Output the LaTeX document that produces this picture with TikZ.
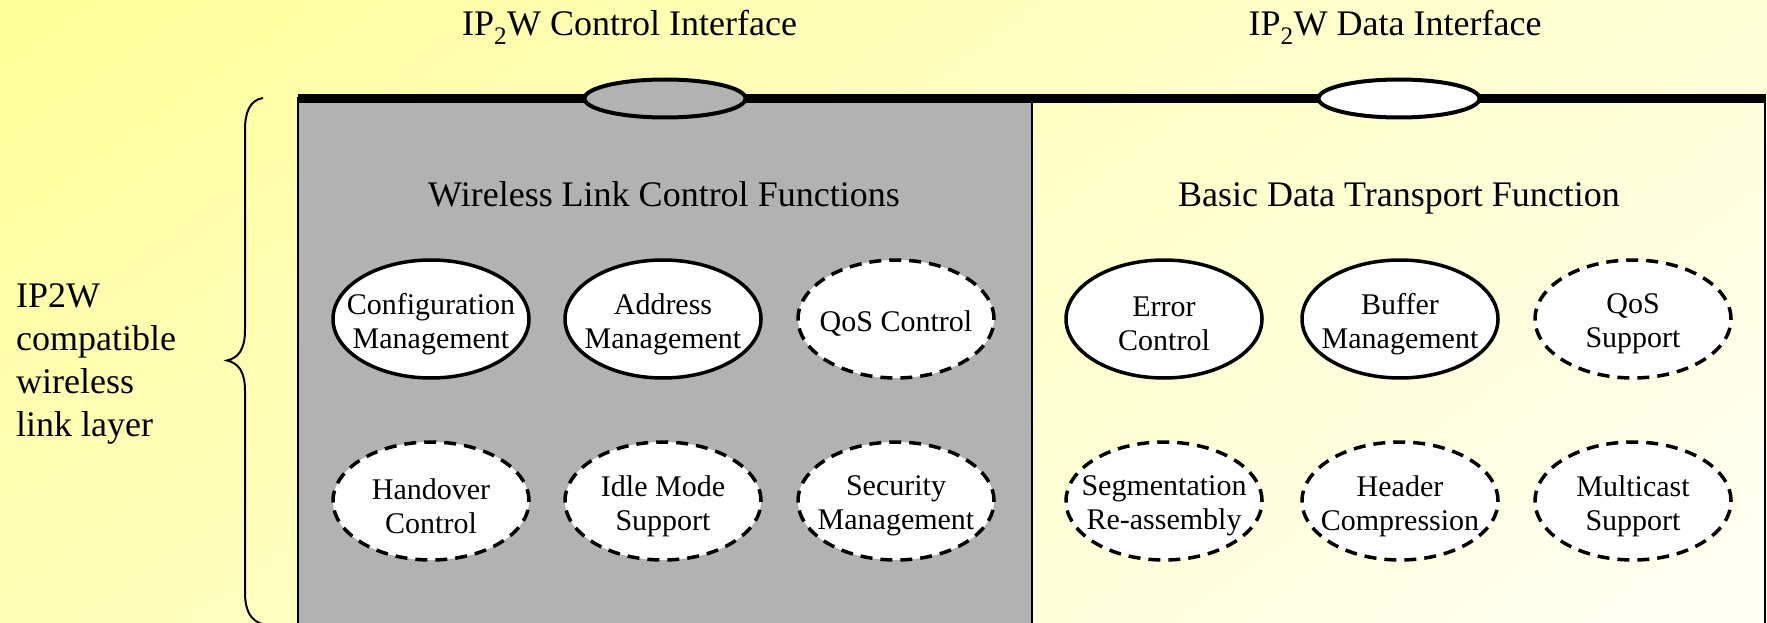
\documentclass[tikz,border=0pt]{standalone}
\usepackage{fontspec}
\setmainfont{Liberation Serif}
\usetikzlibrary{shapes.geometric,shadings}

\definecolor{bgUL}{HTML}{FFFF99}
\definecolor{bgUR}{HTML}{FFFFD8}
\definecolor{bgLL}{HTML}{FFFFB8}
\definecolor{bgLR}{HTML}{FFFFF5}
\definecolor{panelgray}{HTML}{B2B2B2}

\tikzset{
  bigtext/.style={font=\fontsize{36}{43}\selectfont, inner sep=0pt},
  % function ellipse; its text sits slightly below the centre
  ftext/.style={align=center, inner sep=0pt, yshift=-5pt,
    font=\fontsize{30}{34}\selectfont},
  func/.style={ellipse, draw=black, fill=white, line width=3.5pt,
    minimum width=196pt, minimum height=118pt, inner sep=0pt,
    label={[ftext]center:{#1}}},
  optfunc/.style={func={#1}, dash pattern=on 12pt off 8pt},
  iface/.style={ellipse, draw=black, line width=4pt,
    minimum width=161pt, minimum height=38pt, inner sep=0pt},
  panelline/.style={draw=black, line width=1.8pt},
  busline/.style={draw=black, line width=8.5pt},
  bracestyle/.style={draw=black, line width=2pt}
}

\begin{document}
\begin{tikzpicture}[x=1pt,y=-1pt]
  \useasboundingbox (0,0) rectangle (1767,623);
  \clip (0,0) rectangle (1767,623);

  % background gradient
  \shade[upper left=bgUL, upper right=bgUR, lower left=bgLL, lower right=bgLR]
    (0,0) rectangle (1767,623);

  % the two function panels
  \path[panelline, fill=panelgray] (298,98) rectangle (1032,650);
  \path[panelline] (1032,98) rectangle (1765,650);

  % interface bus along the top
  \coordinate (busL) at (298,98.5);
  \coordinate (busR) at (1766,98.5);
  \path[busline] (busL) -- (busR);
  \node[iface, fill=panelgray] (ctlif) at (665,98.5) {};
  \node[iface, fill=white] (dataif) at (1399,98.5) {};

  % interface titles
  \node[bigtext, anchor=base] (ctltitle) at (629.5,36) {IP\textsubscript{2}W Control Interface};
  \node[bigtext, anchor=base] (datatitle) at (1395,36) {IP\textsubscript{2}W Data Interface};

  % panel headings
  \node[bigtext, anchor=base] (wlcf) at (664,206) {Wireless Link Control Functions};
  \node[bigtext, anchor=base] (bdtf) at (1399,206) {Basic Data Transport Function};

  % control functions
  \node[func={Configuration\\Management}] (cfg)  at (431,319) {};
  \node[func={Address\\Management}]       (addr) at (663,319) {};
  \node[optfunc={QoS Control}]            (qosc) at (896,319) {};
  \node[optfunc={Handover\\Control}]      (hand) at (431,501) {};
  \node[optfunc={Idle Mode\\Support}]     (idle) at (663,501) {};
  \node[optfunc={Security\\Management}]   (sec)  at (896,501) {};

  % data transport functions
  \node[func={Error\\Control}]               (err)   at (1164,319) {};
  \node[func={Buffer\\Management}]           (buf)   at (1400,319) {};
  \node[optfunc={QoS\\Support}]              (qoss)  at (1633,319) {};
  \node[optfunc={Segmentation\\Re-assembly}] (seg)   at (1164,501) {};
  \node[optfunc={Header\\Compression}]       (hdr)   at (1400,501) {};
  \node[optfunc={Multicast\\Support}]        (mcast) at (1633,501) {};

  % layer brace and its label
  \path[bracestyle] (263,98) .. controls (250,100) and (245,112) .. (245,130)
    -- (245,330) .. controls (245,350) and (238,358) .. (227,360.5)
    .. controls (238,363) and (245,371) .. (245,391)
    -- (245,592) .. controls (245,610) and (250,620) .. (262,624);
  \node[bigtext, anchor=west, align=left] (layer) at (16,364)
    {IP2W\\compatible\\wireless\\link layer};
\end{tikzpicture}
\end{document}
